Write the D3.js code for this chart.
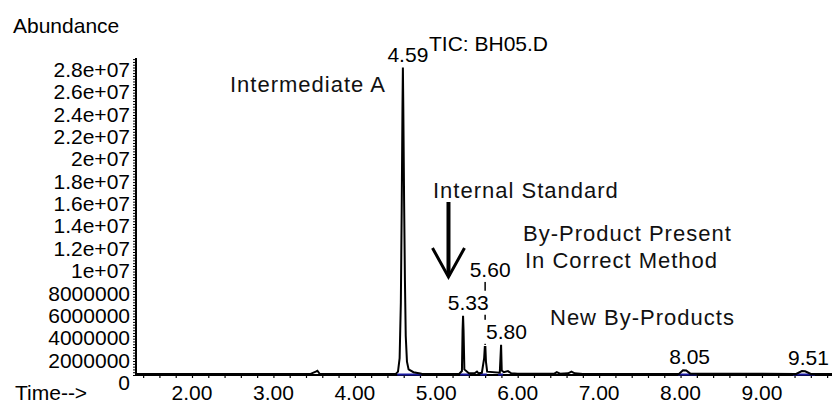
<!DOCTYPE html>
<html>
<head>
<meta charset="utf-8">
<script src="https://cdn.jsdelivr.net/npm/d3@7"></script>
<style>
  body { margin: 0; background: #fff; }
  text { font-family: "Liberation Sans", Arial, sans-serif; fill: #000; }
  .note { font-size: 22px; letter-spacing: 1px; fill: #111; }
  .lbl { font-size: 21px; }
</style>
</head>
<body>
<svg id="chart" width="832" height="404"></svg>
<script>
// ---------------------------------------
// Data (time in min, abundance in counts)
// ---------------------------------------
const traceTime = [
  1.30, 3.45, 3.52, 3.54, 3.57, 4.50, 4.53, 4.55, 4.565, 4.575, 4.585, 4.59,
  4.595, 4.605, 4.615, 4.625, 4.64, 4.66, 4.72, 4.82, 5.28, 5.315, 5.323, 5.329,
  5.335, 5.345, 5.40, 5.47, 5.50, 5.52, 5.56, 5.588, 5.596, 5.603, 5.61, 5.625,
  5.78, 5.796, 5.804, 5.83, 5.88, 5.92, 6.00, 6.45, 6.48, 6.52, 6.62, 6.66,
  6.70, 6.80, 7.98, 8.03, 8.07, 8.12, 9.42, 9.49, 9.53, 9.60, 9.86
];
const traceAbund = [
  0.08e6, 0.08e6, 0.30e6, 0.38e6, 0.08e6, 0.08e6, 0.30e6, 1.5e6, 6.5e6, 14.5e6, 24e6, 27.5e6,
  24e6, 15.5e6, 8.5e6, 3.5e6, 1.2e6, 0.5e6, 0.25e6, 0.12e6, 0.10e6, 0.35e6, 4.0e6, 5.3e6,
  4.0e6, 0.5e6, 0.15e6, 0.15e6, 0.30e6, 0.15e6, 0.20e6, 1.5e6, 2.5e6, 2.5e6, 1.2e6, 0.30e6,
  0.20e6, 2.7e6, 0.40e6, 0.25e6, 0.35e6, 0.15e6, 0.12e6, 0.12e6, 0.25e6, 0.12e6, 0.15e6, 0.30e6,
  0.15e6, 0.10e6, 0.10e6, 0.42e6, 0.40e6, 0.12e6, 0.10e6, 0.35e6, 0.33e6, 0.10e6, 0.10e6
];

// labelled peaks (retention times)
const peakLabels = ["4.59", "5.33", "5.60", "5.80", "8.05", "9.51"];
// integration baselines [start, end]
const integStart = [4.52, 5.29, 5.54, 5.76, 7.97, 9.38];
const integEnd   = [4.82, 5.41, 5.62, 5.82, 8.20, 9.65];

const xTickValues = [2, 3, 4, 5, 6, 7, 8, 9];
const xTickLabels = ["2.00", "3.00", "4.00", "5.00", "6.00", "7.00", "8.00", "9.00"];
const yTickValues = [28e6, 26e6, 24e6, 22e6, 20e6, 18e6, 16e6, 14e6, 12e6, 10e6, 8e6, 6e6, 4e6, 2e6, 0];
const yTickLabels = ["2.8e+07", "2.6e+07", "2.4e+07", "2.2e+07", "2e+07", "1.8e+07", "1.6e+07",
  "1.4e+07", "1.2e+07", "1e+07", "8000000", "6000000", "4000000", "2000000", "0"];

const notes = ["Intermediate A", "Internal Standard", "By-Product Present", "In Correct Method", "New By-Products"];

// ---------------------------------------
// Scales
// ---------------------------------------
const svg = d3.select("#chart");
const x = d3.scaleLinear().domain([1.3, 9.86]).range([135, 832]);
const y = d3.scaleLinear().domain([0, 28.35e6]).range([375, 58]);

// minor ticks
svg.append("g")
  .attr("transform", `translate(0,${y(0)})`)
  .call(d3.axisBottom(x).tickValues(d3.range(1.4, 9.81, 0.2)).tickSize(3).tickFormat(""))
  .call(g => g.select(".domain").remove())
  .call(g => g.selectAll("line").attr("stroke", "#000").attr("stroke-width", 1.2));

svg.append("g")
  .attr("transform", `translate(${x(1.3) + 1},0)`)
  .call(d3.axisLeft(y).tickValues(d3.range(0, 28.3e6, 0.25e6)).tickSize(3).tickFormat(""))
  .call(g => g.select(".domain").remove())
  .call(g => g.selectAll("line").attr("stroke", "#000").attr("stroke-width", 1));

// axis lines
svg.append("line")
  .attr("x1", x(1.3) + 1).attr("x2", x(1.3) + 1)
  .attr("y1", y(28.35e6)).attr("y2", y(0) + 1)
  .attr("stroke", "#000").attr("stroke-width", 2);
svg.append("line")
  .attr("x1", x(1.3)).attr("x2", 832)
  .attr("y1", y(0)).attr("y2", y(0))
  .attr("stroke", "#000").attr("stroke-width", 2);

// tick labels
svg.selectAll(".ylab")
  .data(yTickValues)
  .enter().append("text")
  .attr("class", "lbl")
  .attr("x", 130)
  .attr("y", d => y(d) + 15)
  .attr("text-anchor", "end")
  .text((d, i) => yTickLabels[i]);

svg.selectAll(".xlab")
  .data(xTickValues)
  .enter().append("text")
  .attr("class", "lbl")
  .attr("x", d => x(d))
  .attr("y", 400)
  .attr("text-anchor", "middle")
  .text((d, i) => xTickLabels[i]);

svg.append("text").attr("class", "lbl").attr("x", 13).attr("y", 33).text("Abundance");
svg.append("text").attr("class", "lbl").attr("x", 15).attr("y", 400).text("Time-->");
svg.append("text").attr("class", "lbl").attr("x", 429).attr("y", 51).text("TIC: BH05.D");

// integration baselines (blue)
svg.selectAll(".integ")
  .data(integStart)
  .enter().append("line")
  .attr("x1", d => x(d))
  .attr("x2", (d, i) => x(integEnd[i]))
  .attr("y1", y(0) - 0.5).attr("y2", y(0) - 0.5)
  .attr("stroke", "#1a1aa0").attr("stroke-width", 2);

// ---------------------------------------
// Peak labels (stacked upward when they collide)
// ---------------------------------------
const trace = traceTime.map((t, i) => ({ t: t, v: traceAbund[i] }));
const peaks = peakLabels.map(s => {
  const t = +s;
  const near = trace.filter(p => Math.abs(p.t - t) < 0.04);
  return { s: s, t: t, v: d3.max(near, p => p.v) };
}).sort((a, b) => b.v - a.v);

const placed = [];
const measure = svg.append("text").attr("class", "lbl");
peaks.forEach(p => {
  const w = measure.text(p.s).node().getComputedTextLength();
  const cx = x(p.t) + 5;
  let base = y(p.v) - 6;
  let hit = true;
  while (hit) {
    hit = false;
    for (const q of placed) {
      if (cx - w / 2 < q.x1 && cx + w / 2 > q.x0 && base > q.top && base - 15 < q.base) {
        base = q.top - 18;
        hit = true;
      }
    }
  }
  placed.push({ p: p, cx: cx, x0: cx - w / 2, x1: cx + w / 2, top: base - 15, base: base,
    moved: base < y(p.v) - 10 });
});
measure.remove();

// connectors for displaced labels
svg.selectAll(".conn")
  .data(placed.filter(d => d.moved))
  .enter().append("line")
  .attr("x1", d => x(d.p.t)).attr("x2", d => x(d.p.t))
  .attr("y1", d => d.base + 5).attr("y2", d => y(d.p.v) - 2)
  .attr("stroke", "#000").attr("stroke-width", 1.5);

svg.selectAll(".lblbg")
  .data(placed)
  .enter().append("rect")
  .attr("x", d => d.x0 - 2).attr("width", d => d.x1 - d.x0 + 4)
  .attr("y", d => d.top - 4).attr("height", d => d.base - d.top + 9)
  .attr("fill", "#fff");

svg.selectAll(".peaklab")
  .data(placed)
  .enter().append("text")
  .attr("class", "lbl")
  .attr("x", d => d.cx)
  .attr("y", d => d.base)
  .attr("text-anchor", "middle")
  .text(d => d.p.s);

// ---------------------------------------
// Trace
// ---------------------------------------
const line = d3.line().x(d => x(d.t)).y(d => y(d.v));
svg.append("path")
  .datum(trace)
  .attr("d", line)
  .attr("fill", "none")
  .attr("stroke", "#000")
  .attr("stroke-width", 2)
  .attr("stroke-linejoin", "miter");

// ---------------------------------------
// Annotations
// ---------------------------------------
const notePos = [[230, 92], [433, 198], [523, 241], [525, 268], [550, 325]];
svg.selectAll(".note")
  .data(notes)
  .enter().append("text")
  .attr("class", "note")
  .attr("x", (d, i) => notePos[i][0])
  .attr("y", (d, i) => notePos[i][1])
  .text(d => d);

// arrow pointing at the internal standard
const ax = x(5.15);
svg.append("line")
  .attr("x1", ax).attr("x2", ax).attr("y1", 202).attr("y2", 276)
  .attr("stroke", "#000").attr("stroke-width", 4);
svg.append("path")
  .attr("d", `M${ax - 16},248 L${ax},277 L${ax + 16},248`)
  .attr("fill", "none")
  .attr("stroke", "#000")
  .attr("stroke-width", 3);
</script>
</body>
</html>
